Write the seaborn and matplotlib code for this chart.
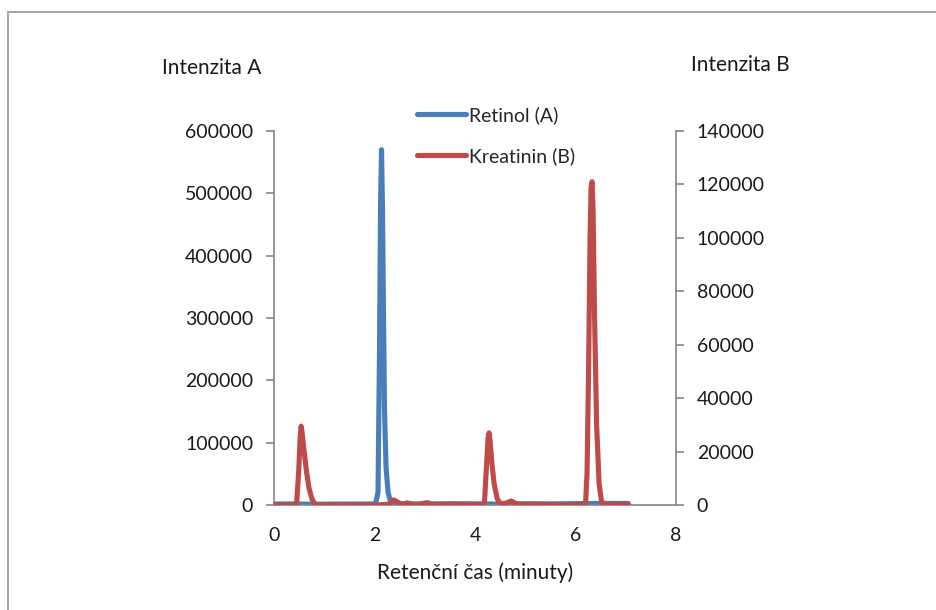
import matplotlib
matplotlib.use("Agg")
import matplotlib.pyplot as plt
import seaborn as sns
import pandas as pd
from matplotlib.patches import Rectangle

# ---- data ----
retinol_time = [0.0, 0.3, 0.8, 1.3, 1.8, 2.02, 2.07, 2.10, 2.12, 2.14, 2.16, 2.18, 2.20, 2.23, 2.27, 2.32,
                2.5, 3.0, 3.5, 4.0, 4.5, 5.0, 5.5, 6.0, 6.5, 7.05]
retinol_vals = [1500, 1800, 1200, 1600, 1500, 1800, 20000, 250000, 480000, 570000, 470000, 300000, 150000,
                60000, 20000, 5000, 2000, 1500, 2000, 1800, 1500, 2000, 1800, 2200, 2500, 2500]

kreat_time = [0.0, 0.40, 0.45, 0.49, 0.52, 0.54, 0.56, 0.60, 0.65, 0.70, 0.76, 0.82, 0.9, 1.5, 2.0,
              2.30, 2.38, 2.45, 2.55, 2.65, 2.8, 3.05, 3.15, 3.5, 4.0, 4.16,
              4.19, 4.23, 4.26, 4.28, 4.30, 4.34, 4.38, 4.44, 4.50, 4.60, 4.72, 4.80, 4.90, 5.2, 5.5, 6.0, 6.20,
              6.23, 6.26, 6.29, 6.31, 6.33, 6.35, 6.38, 6.42, 6.47, 6.52, 6.6, 7.05]
kreat_vals = [0, 0, 600, 12000, 25000, 29500, 27000, 20000, 12000, 6000, 2000, 300, 0, 0, 0,
              300, 1900, 1200, 200, 800, 0, 900, 200, 300, 200, 0,
              1500, 15000, 25000, 27000, 24000, 15000, 8000, 2500, 500, 600, 1500, 700, 200, 300, 100, 200, 300,
              12000, 50000, 100000, 119000, 121000, 110000, 70000, 30000, 8000, 1000, 300, 200]

x_ticks = [0, 2, 4, 6, 8]
left_ticks = [0, 100000, 200000, 300000, 400000, 500000, 600000]
right_ticks = [0, 20000, 40000, 60000, 80000, 100000, 120000, 140000]

df_a = pd.DataFrame({"t": retinol_time, "v": retinol_vals})
df_b = pd.DataFrame({"t": kreat_time, "v": kreat_vals})

sns.set_style("white")
plt.rcParams["font.family"] = ["Lato", "DejaVu Sans"]

BLUE = "#4A7EBB"
RED = "#BE4B48"
GRAY = "#868686"
TXT = "#1a1a1a"
FS = 14

fig = plt.figure(figsize=(9.36, 6.10), dpi=100)
ax = fig.add_axes([274 / 936, 1 - 505 / 610, (676 - 274) / 936, (505 - 131) / 610])
ax2 = ax.twinx()

sns.lineplot(data=df_a, x="t", y="v", ax=ax, color=BLUE, linewidth=3.7, label="Retinol (A)", legend=False)
sns.lineplot(data=df_b, x="t", y="v", ax=ax2, color=RED, linewidth=3.7, label="Kreatinin (B)", legend=False)

ax.set_xlim(0, 8)
ax.set_ylim(0, 600000)
ax2.set_ylim(0, 140000)
ax.set_xticks(x_ticks)
ax.set_yticks(left_ticks)
ax2.set_yticks(right_ticks)
ax.set_xticklabels([str(v) for v in x_ticks])
ax.set_yticklabels([str(v) for v in left_ticks])
ax2.set_yticklabels([str(v) for v in right_ticks])

for a in (ax, ax2):
    a.set_facecolor("none")
    a.spines["top"].set_visible(False)
    for s in ("left", "right", "bottom"):
        a.spines[s].set_color(GRAY)
        a.spines[s].set_linewidth(1.2)
    a.tick_params(colors=GRAY, labelcolor=TXT, labelsize=FS, length=6, width=1.2, direction="out")
    a.set_ylabel("")
    a.set_xlabel("")
ax.spines["right"].set_visible(False)
ax2.spines["left"].set_visible(False)
ax2.spines["bottom"].set_visible(False)
ax.tick_params(axis="y", pad=9)
ax2.tick_params(axis="y", pad=9)
ax.tick_params(axis="x", pad=10)

ax.set_xlabel("Retenční čas (minuty)", fontsize=FS + 1, color=TXT, labelpad=13)

fig.text(162 / 936, 1 - 68 / 610, "Intenzita A", fontsize=FS + 1, color=TXT, ha="left", va="center")
fig.text(691 / 936, 1 - 65 / 610, "Intenzita B", fontsize=FS + 1, color=TXT, ha="left", va="center")

h1, l1 = ax.get_legend_handles_labels()
h2, l2 = ax2.get_legend_handles_labels()
fig.legend(h1 + h2, l1 + l2, loc="upper left", bbox_to_anchor=(417 / 936, 1 - 106 / 610),
           frameon=False, fontsize=FS, handlelength=2.5, handletextpad=0.15, labelspacing=1.2, borderpad=0,
           borderaxespad=0)

fig.patches.append(Rectangle((8 / 936, -0.05), 1.2, 1 - 12 / 610 + 0.05, transform=fig.transFigure,
                             fill=False, edgecolor="#a6a6a6", linewidth=1.5))

fig.savefig("out.png", dpi=100)
